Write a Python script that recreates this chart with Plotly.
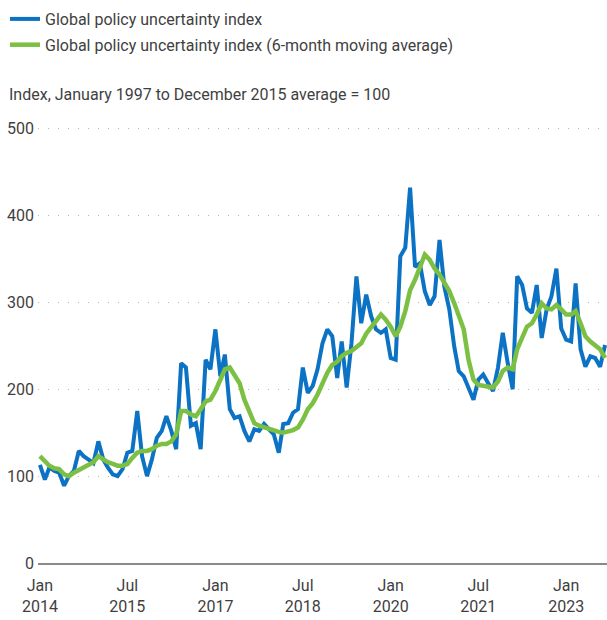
import pandas as pd
import plotly.graph_objects as go

months = pd.date_range("2014-01-01", periods=117, freq="MS")

gepu = [
    113, 96, 110, 106, 104, 89, 100, 106, 129, 123, 119, 115,
    140, 119, 110, 102, 100, 108, 127, 129, 175, 123, 100, 119,
    144, 152, 169, 152, 131, 230, 225, 158, 161, 131, 234, 223,
    269, 215, 240, 177, 167, 169, 152, 140, 154, 152, 160, 154,
    148, 127, 160, 161, 173, 177, 225, 196, 204, 223, 253, 269,
    261, 213, 255, 202, 253, 330, 276, 309, 284, 269, 265, 269,
    236, 234, 353, 363, 432, 341, 345, 313, 297, 307, 372, 318,
    292, 249, 221, 215, 202, 188, 211, 217, 207, 198, 225, 265,
    230, 200, 330, 320, 293, 288, 320, 259, 292, 307, 339, 270,
    257, 255, 322, 246, 226, 238, 236, 226, 251,
]

gepu_ma6 = [
    123, 117, 112, 109, 108, 102, 100, 104, 107, 110, 112, 116,
    123, 119, 116, 114, 112, 112, 114, 121, 127, 129, 129, 131,
    135, 137, 137, 140, 148, 175, 175, 171, 169, 177, 186, 188,
    198, 211, 223, 225, 215, 207, 188, 173, 161, 158, 156, 154,
    152, 151, 150, 151, 153, 156, 165, 177, 184, 194, 207, 219,
    228, 232, 238, 242, 244, 249, 253, 264, 272, 280, 286, 280,
    272, 261, 272, 290, 314, 326, 341, 355, 349, 339, 332, 322,
    313, 299, 284, 269, 234, 211, 205, 204, 202, 202, 209, 221,
    225, 223, 246, 261, 272, 276, 286, 299, 293, 292, 297, 292,
    286, 286, 290, 276, 261, 255, 251, 246, 236,
]

tick_dates = ["2014-01-01", "2015-07-01", "2017-01-01", "2018-07-01",
              "2020-01-01", "2021-07-01", "2023-01-01"]
tick_labels = ["Jan<br>2014", "Jul<br>2015", "Jan<br>2017", "Jul<br>2018",
               "Jan<br>2020", "Jul<br>2021", "Jan<br>2023"]
y_ticks = [0, 100, 200, 300, 400, 500]

FONT = "Roboto, 'Liberation Sans', sans-serif"
TXT = "#3f3f3f"

fig = go.Figure()
fig.add_trace(go.Scatter(
    x=months, y=gepu, mode="lines",
    name="Global policy uncertainty index", legendgroup="a",
    line=dict(color="#0b72c4", width=4),
))
fig.add_trace(go.Scatter(
    x=months, y=gepu_ma6, mode="lines",
    name="Global policy uncertainty index (6-month moving average)",
    legendgroup="b",
    line=dict(color="#7cc043", width=4.5),
))

W, H = 607, 620
ml, mr, mt, mb = 38, 0, 120, 57
pw, ph = W - ml - mr, H - mt - mb

fig.update_layout(
    width=W, height=H,
    margin=dict(l=ml, r=mr, t=mt, b=mb, autoexpand=False),
    paper_bgcolor="white", plot_bgcolor="white",
    font=dict(family=FONT, size=16, color=TXT),
    showlegend=True,
    legend=dict(
        xref="container", yref="container",
        x=5 / W, y=1 - 2 / H,
        xanchor="left", yanchor="top",
        bgcolor="rgba(0,0,0,0)",
        font=dict(family=FONT, size=16, color=TXT),
        itemwidth=30,
        tracegroupgap=2,
    ),
    xaxis=dict(
        type="date", automargin=False,
        range=["2013-12-20", "2023-09-13"],
        tickvals=tick_dates, ticktext=tick_labels,
        showgrid=False, zeroline=False,
        showline=True, linecolor="#8a8a8a", linewidth=1.5,
        ticks="", ticklabelstandoff=7,
        tickfont=dict(family=FONT, size=16, color=TXT),
    ),
    yaxis=dict(
        range=[0, 510], automargin=False,
        tickvals=y_ticks,
        showgrid=True, gridcolor="#b5b5b5", gridwidth=1, griddash="1px,9px",
        zeroline=False, showline=False, ticks="",
        ticklabelstandoff=3,
        tickfont=dict(family=FONT, size=16, color=TXT),
    ),
    annotations=[dict(
        text="Index, January 1997 to December 2015 average = 100",
        xref="paper", yref="paper",
        x=(7 - ml) / pw, y=1 + (mt - 95) / ph,
        xanchor="left", yanchor="middle", showarrow=False,
        font=dict(family=FONT, size=16, color=TXT),
    )],
)

fig.write_html(
    "out.html",
    config={"displayModeBar": False},
    post_script="document.body.style.margin='0';document.body.style.overflow='hidden';",
)
